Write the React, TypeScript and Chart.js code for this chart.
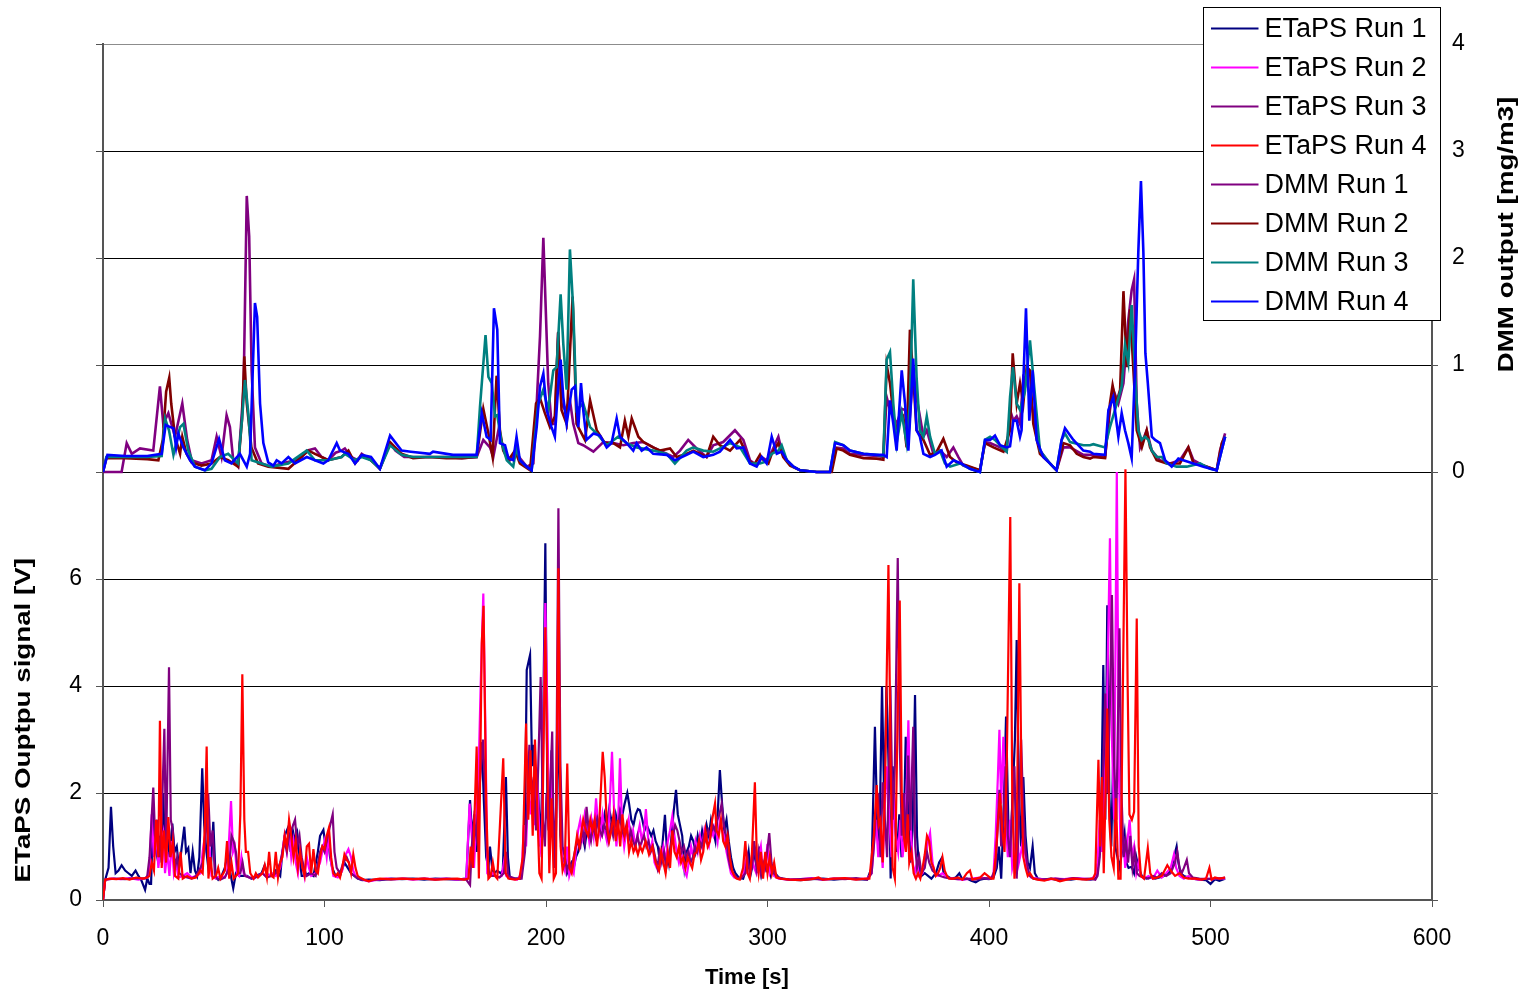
import React, { useEffect, useRef } from "react";
import { Chart, registerables } from "chart.js";

Chart.register(...registerables);

const FONT = '"Liberation Sans", Arial, Helvetica, sans-serif';

const X_TICKS = [0, 100, 200, 300, 400, 500, 600];
const LEFT_TICK_LABELS = [0, 2, 4, 6];
const RIGHT_TICK_LABELS = [0, 1, 2, 3, 4];
const X_TITLE = "Time [s]";
const LEFT_TITLE = "ETaPS Ouptpu signal [V]";
const RIGHT_TITLE = "DMM output [mg/m3]";

const SERIES_LABELS = [
  "ETaPS Run 1", "ETaPS Run 2", "ETaPS Run 3", "ETaPS Run 4",
  "DMM Run 1", "DMM Run 2", "DMM Run 3", "DMM Run 4",
];
const SERIES_COLORS = [
  "#000080", "#FF00FF", "#800080", "#FF0000",
  "#800080", "#800000", "#008080", "#0000FF",
];

type P = [number, number];

const ETAPS_RUN1: P[] = [[0,0],[1,0.38],[2.5,0.6],[3.6,1.74],[4.6,1.0],[5.7,0.5],[7,0.55],[8.4,0.65],[10,0.55],[11.5,0.5],[13,0.45],[14.7,0.55],[16,0.45],[17.5,0.35],[19,0.19],[20,0.4],[21,0.3],[21.7,0.3],[22.7,1.68],[23.5,1.0],[24.5,0.8],[25.5,1.2],[26.5,0.7],[27.2,2.0],[28,0.9],[29,1.3],[30,0.8],[31.3,1.43],[32.3,0.9],[33.3,1.0],[34.3,0.6],[35.3,0.9],[36.7,1.37],[37.5,0.9],[38.5,0.97],[39.5,0.5],[40.5,0.9],[41.5,0.55],[42.5,0.45],[43.5,0.8],[44.8,2.46],[45.7,1.4],[46.7,0.9],[47.7,0.55],[48.7,0.6],[49.8,1.46],[50.8,0.45],[52,0.38],[53.5,0.45],[55,0.6],[56.5,0.9],[57.5,0.5],[58.8,0.22],[60,0.5],[61.5,0.45],[63,0.45],[65,0.45],[67,0.4],[69,0.45],[71.6,0.5],[73,0.65],[74.5,0.45],[76,0.45],[78,0.55],[80,0.45],[81,0.9],[82,1.2],[83.7,1.37],[84.7,0.9],[85.7,1.3],[86.7,1.1],[87.7,1.25],[88.7,0.8],[89.7,0.45],[91,0.45],[93,0.5],[95,0.45],[97,0.9],[98,1.2],[99.5,1.31],[100.5,1.0],[101.5,1.2],[102.5,0.8],[103.5,0.6],[105,0.45],[107,0.45],[109,0.7],[110.5,0.6],[112,0.5],[113.5,0.45],[115,0.4],[117,0.37],[120,0.38],[125,0.37],[130,0.4],[135,0.39],[140,0.4],[145,0.38],[150,0.4],[155,0.39],[160,0.38],[164,0.4],[165.7,1.87],[166.7,1.2],[167.7,1.6],[168.7,0.9],[169.7,2.0],[171,2.95],[172,1.8],[173,0.8],[174,0.6],[174.7,1.0],[175.7,0.6],[176.5,0.5],[178,0.55],[179.5,0.5],[180.5,0.55],[181.9,2.3],[182.8,0.8],[183.7,0.4],[186,0.4],[188.3,0.4],[189.5,0.7],[190.5,1.4],[191.3,4.3],[192.8,4.58],[193.7,2.5],[194.5,2.9],[195.5,1.5],[196.5,2.0],[197.5,1.0],[198.5,2.5],[199.7,6.67],[200.6,2.0],[201.5,1.2],[202.5,2.8],[203.5,0.8],[204.5,1.3],[205.5,3.5],[206.5,1.2],[207.5,0.7],[208.5,0.8],[209.5,0.5],[210.5,0.6],[211.5,0.7],[212.5,0.6],[213.5,0.8],[214.5,0.9],[215.5,1.1],[216.5,1.2],[217.5,1.0],[218.5,1.3],[219.5,1.2],[220.5,1.5],[221.5,1.3],[222.5,1.6],[223.5,1.4],[224.5,1.5],[225.5,1.3],[226.5,1.6],[227.5,1.4],[228.5,1.7],[229.5,1.5],[230.5,1.3],[231.5,1.6],[232.5,1.4],[233.5,1.7],[234.5,1.6],[235.5,1.8],[236.7,2.0],[237.5,1.8],[238.5,1.5],[239.5,1.4],[240.5,1.6],[241.5,1.7],[242.4,1.68],[243.5,1.5],[244.5,1.3],[245.5,1.4],[246.5,1.3],[247.5,1.2],[248.5,1.3],[249.5,1.1],[250.5,1.0],[251.5,0.7],[252.5,1.0],[253.7,1.59],[254.5,1.0],[255.5,0.7],[256.5,1.1],[257.5,1.6],[258.7,2.06],[259.5,1.6],[260.5,1.4],[261.5,1.2],[262.5,0.6],[263.5,0.9],[264.5,1.0],[265.5,1.2],[266.5,1.1],[267.5,0.9],[268.5,1.2],[269.5,1.0],[270.5,1.3],[271.5,1.1],[272.5,1.4],[273.5,1.2],[274.5,1.5],[275.5,1.3],[276.5,1.1],[277.5,1.6],[278.5,2.43],[279.5,1.8],[280.5,1.3],[281.5,1.5],[282.5,1.1],[283.5,0.8],[284.5,0.6],[285.5,0.5],[287,0.42],[289,0.4],[290.5,0.6],[291.5,0.9],[292.5,0.5],[293.5,0.7],[294.5,0.9],[295.5,0.5],[296.5,1.0],[297.5,0.5],[298.5,0.7],[299.5,0.55],[300.5,0.6],[301.5,0.45],[302.5,0.6],[303.5,0.5],[305,0.42],[307,0.4],[310,0.38],[315,0.37],[320,0.39],[325,0.4],[330,0.38],[335,0.4],[340,0.39],[345,0.38],[347,0.6],[348.5,3.24],[349.5,1.5],[350.5,1.0],[351.7,3.99],[352.7,1.8],[353.7,3.99],[354.7,2.5],[355.6,0.4],[356.5,2.5],[357.5,1.5],[358.5,0.9],[359.5,1.6],[360.5,0.8],[361.5,1.2],[362.4,3.05],[363.4,1.8],[364.5,0.7],[365.5,1.3],[366.6,3.83],[367.5,1.2],[368.5,0.5],[369.5,0.45],[371,0.5],[372.5,0.45],[374,0.4],[376,0.5],[377.5,0.7],[378.6,0.78],[379.5,0.5],[381,0.45],[383,0.4],[385,0.42],[386.6,0.5],[388,0.38],[390,0.4],[392,0.36],[394,0.33],[396,0.38],[398,0.4],[400,0.39],[402,0.42],[403.5,0.6],[404.5,1.0],[405.5,0.4],[406.5,1.5],[407.7,3.43],[408.7,1.5],[409.7,0.9],[410.7,2.0],[411.7,3.0],[412.5,4.86],[413.5,2.0],[414.5,1.0],[415.5,2.3],[416.5,1.2],[417.5,0.7],[418.5,0.6],[419.7,1.0],[420.7,0.5],[422,0.4],[425,0.38],[428,0.4],[431,0.37],[434,0.39],[437,0.38],[440,0.4],[443,0.39],[446,0.38],[448,0.4],[449,0.5],[450,1.2],[450.8,2.0],[451.6,4.39],[452.5,1.5],[453.4,5.51],[454.3,2.0],[455.2,1.0],[456,2.5],[457,1.0],[458,0.8],[459,0.6],[460,0.9],[461.2,1.25],[462,0.7],[463,0.6],[464.4,0.62],[465.5,0.5],[466.5,0.8],[467.5,0.6],[469,0.45],[471,0.4],[473,0.42],[475,0.4],[477,0.42],[479,0.45],[481,0.5],[482.5,0.6],[483.5,0.8],[484.7,1.0],[485.5,0.7],[486.5,0.5],[488,0.45],[490,0.42],[492,0.4],[495,0.38],[498,0.37],[500,0.3],[502,0.39],[504,0.36],[506.6,0.4]];

const ETAPS_RUN2: P[] = [[0,0],[1,0.38],[4,0.4],[8,0.39],[12,0.41],[16,0.38],[20,0.42],[21,0.6],[22,1.6],[23,0.8],[24,1.3],[25,0.6],[26,1.0],[27.2,1.25],[28,0.5],[29,0.9],[30,0.45],[31,1.1],[32,0.5],[33,0.7],[34,0.42],[36,0.45],[38,0.5],[40,0.42],[42,0.45],[44,0.5],[45,0.9],[46,1.2],[47,1.5],[48,1.0],[49,0.45],[51,0.4],[53,0.45],[55,0.42],[56,0.5],[57,1.2],[57.8,1.85],[58.7,0.9],[59.5,1.0],[60.5,0.5],[61.5,0.45],[62.5,0.8],[63.5,0.5],[64.5,0.45],[66,0.42],[68,0.4],[70,0.45],[72,0.5],[74,0.42],[76,0.5],[78,0.45],[80,0.6],[81,0.9],[82,1.2],[83,0.9],[84,1.3],[85,0.8],[86,1.1],[87,0.7],[88,0.5],[89,0.9],[90,0.7],[91,0.45],[92,0.8],[93,0.6],[94,0.45],[96,0.5],[98,0.7],[99,0.9],[100,1.1],[101,0.8],[102,1.2],[103,0.7],[104,0.45],[106,0.42],[108,0.55],[109,0.8],[110.8,0.95],[112,0.8],[113,0.55],[114,0.45],[116,0.4],[118,0.37],[120,0.35],[124,0.38],[128,0.4],[132,0.39],[136,0.4],[140,0.38],[145,0.4],[150,0.39],[155,0.4],[160,0.38],[164,0.4],[165.5,1.8],[166.5,1.2],[167.5,0.6],[168.5,1.5],[169.5,2.3],[170.5,4.0],[171.7,5.73],[172.7,3.0],[173.5,0.5],[174.5,0.45],[176,0.5],[178,0.42],[180,0.45],[181,0.7],[182,0.45],[184,0.4],[187,0.38],[189,0.5],[190,1.4],[191,1.0],[192,2.2],[193,1.6],[194,2.0],[195,1.4],[196,2.4],[197,1.2],[198,0.8],[199.7,5.55],[200.6,3.5],[201.5,1.0],[202.5,2.6],[203.5,0.9],[204.5,1.5],[205.6,5.0],[206.6,1.5],[207.5,0.7],[208.5,0.55],[209.5,1.0],[210.5,0.45],[211.5,0.6],[212.5,0.5],[213.5,0.9],[214.5,1.3],[215.5,1.5],[216.5,1.2],[217.5,1.6],[218.5,1.4],[219.5,1.1],[220.5,1.5],[221.5,1.2],[222.6,1.9],[223.5,1.4],[224.5,1.2],[225.5,1.6],[226.5,1.3],[227.5,1.1],[228.5,1.5],[229.8,2.77],[230.8,1.6],[231.8,1.0],[232.6,1.5],[233.4,2.65],[234.3,1.4],[235.3,1.0],[236.3,1.3],[237.3,1.5],[238.3,1.1],[239.3,1.3],[240.3,1.0],[241.3,1.2],[242.3,1.4],[243.3,1.1],[244.3,1.3],[245.1,1.7],[246,1.2],[247,0.9],[248,1.1],[249,0.7],[250,0.6],[251,0.55],[252,0.8],[253,1.0],[254,0.7],[255,1.1],[256,1.3],[257,1.56],[258,1.2],[259,0.9],[260,0.7],[261,0.9],[262,0.6],[263.5,0.45],[264.5,0.7],[265.5,1.0],[266.5,0.8],[267.5,1.1],[268.5,0.9],[269.5,1.2],[270.5,1.0],[271.5,1.3],[272.5,1.1],[273.5,1.0],[274.5,1.3],[275.5,1.2],[276.5,1.4],[277.5,1.1],[278.5,1.5],[279.5,1.3],[280.5,1.2],[281.5,0.9],[282.5,0.7],[283.5,0.5],[285,0.42],[287,0.4],[289,0.45],[290,0.7],[291,0.5],[292,0.45],[293,0.8],[294,0.6],[295,0.5],[296,0.8],[297,1.0],[298,0.5],[299,0.6],[300,1.05],[301,0.5],[302,0.6],[303,0.45],[305,0.4],[310,0.38],[315,0.39],[320,0.41],[325,0.38],[330,0.4],[335,0.4],[340,0.39],[345,0.4],[347,0.5],[348,1.0],[349,1.5],[350,0.8],[351,1.3],[352,0.6],[353,1.8],[354,2.5],[355,1.5],[356,0.8],[357,2.0],[358,1.2],[359,0.9],[360,1.5],[361,0.8],[362.5,1.5],[363.6,3.36],[364.5,1.5],[365.5,0.7],[366.5,0.5],[367.5,0.7],[368.5,0.45],[370,0.5],[371,0.8],[372,1.0],[373.4,1.25],[374.5,0.7],[375.5,0.5],[377,0.45],[379,0.5],[381,0.42],[384,0.4],[388,0.38],[392,0.4],[396,0.42],[400,0.4],[402,0.45],[403,1.2],[404,2.3],[404.7,3.18],[405.5,1.8],[406.5,3.05],[407.5,1.6],[408.5,0.8],[409.5,1.5],[410.5,0.6],[411.5,0.8],[412.5,1.6],[413.5,0.7],[414.5,0.9],[415.5,1.2],[416.5,0.8],[417.5,0.5],[419,0.42],[422,0.4],[426,0.38],[430,0.4],[434,0.39],[438,0.41],[442,0.4],[446,0.39],[448,0.45],[449,0.7],[450,1.5],[451,0.9],[452,2.0],[453,3.0],[454.6,6.76],[455.5,3.0],[456.5,1.5],[457.7,8.0],[458.6,2.5],[459.5,0.8],[460.5,1.2],[461.5,0.6],[462.5,1.1],[463.5,1.5],[464.5,0.8],[465.5,1.0],[466.5,0.5],[467.5,0.7],[468.5,0.45],[470,0.4],[472,0.45],[474,0.4],[476,0.55],[478,0.42],[480,0.5],[482,0.6],[483.5,0.85],[484.5,0.6],[486,0.45],[488,0.4],[490,0.45],[492,0.4],[495,0.38],[498,0.4],[501,0.39],[504,0.41],[506.6,0.4]];

const ETAPS_RUN3: P[] = [[0,0],[1,0.38],[5,0.4],[10,0.39],[15,0.41],[19,0.4],[20,0.45],[21,0.8],[22.7,2.1],[23.5,1.2],[24.5,1.5],[25.5,0.8],[26.5,1.5],[27.7,3.2],[28.5,0.9],[29.8,4.35],[30.6,1.5],[31.5,1.3],[32.5,0.6],[33.5,0.8],[34.5,0.5],[36,0.45],[38,0.42],[40,0.4],[42,0.45],[44,0.6],[45,0.7],[46,1.0],[47.5,2.0],[48.5,1.0],[49.5,1.3],[50.5,0.5],[51.5,0.4],[53,0.38],[55,0.42],[57,0.6],[58,1.2],[59,1.1],[60,0.9],[61,0.5],[62,0.5],[63,0.7],[64,0.45],[66,0.42],[68,0.4],[70,0.45],[72,0.5],[74,0.42],[76,0.45],[78,0.5],[80,0.7],[81,0.9],[82,1.1],[83,0.9],[84,1.2],[85,1.3],[86.7,1.5],[87.7,1.0],[88.7,1.2],[89.7,0.8],[90.7,0.6],[92,0.45],[94,0.5],[96,0.45],[98,0.9],[99,1.0],[100,0.9],[101,1.1],[102,1.3],[103.7,1.6],[104.5,0.9],[105.5,0.6],[107,0.5],[108.5,0.7],[110,0.8],[111,0.7],[112,0.5],[113.5,0.45],[115,0.4],[117,0.38],[120,0.36],[125,0.39],[130,0.38],[135,0.4],[140,0.39],[145,0.4],[150,0.38],[155,0.4],[160,0.39],[164,0.38],[165.7,0.28],[166.5,1.0],[167.5,1.5],[168.5,1.2],[169.5,1.8],[170.5,2.4],[171.5,3.0],[172.3,2.3],[173.3,1.0],[174.3,0.5],[175.5,0.45],[177,0.45],[179,0.42],[181,0.5],[182,0.9],[183,0.45],[186,0.4],[189,0.4],[190.5,0.9],[191.5,1.8],[192.5,2.9],[193.5,2.0],[194.5,2.3],[195.5,1.3],[196.5,2.5],[197.6,4.17],[198.6,1.5],[199.5,1.0],[200.2,2.0],[201.2,1.3],[202.8,3.15],[203.6,0.6],[204.6,1.8],[205.6,7.32],[206.5,2.5],[207.5,1.0],[208.5,0.8],[209.5,0.55],[210.5,0.7],[211.5,0.6],[212.5,0.8],[213.5,1.0],[214.5,1.1],[215.5,1.0],[216.5,1.3],[217.5,1.1],[218.3,1.74],[219.3,1.3],[220.3,1.1],[221.3,1.4],[222.3,1.2],[223.3,1.5],[224.3,1.3],[225.3,1.2],[226.3,1.4],[227.3,1.3],[228.3,1.1],[229.3,1.4],[230.3,1.2],[231.3,1.5],[232.3,1.3],[233.3,1.6],[234.3,1.3],[235.3,1.2],[236.3,1.4],[237.3,1.1],[238.3,1.3],[239.3,1.1],[240.3,1.0],[241.3,1.2],[242.3,1.0],[243.3,1.1],[244.3,1.2],[245.3,1.0],[246.3,1.1],[247.3,0.9],[248.3,1.0],[249.3,0.8],[250.3,0.6],[251.3,0.9],[252.3,0.7],[253.3,0.9],[254.3,0.6],[255.3,0.8],[256.3,1.0],[257.3,1.2],[258.3,1.4],[259.3,1.3],[260.3,1.1],[261.3,0.9],[262.3,1.0],[263.3,0.8],[264.3,0.9],[265.3,0.7],[266.3,0.8],[267.3,1.0],[268.3,0.9],[269.3,1.1],[270.3,1.0],[271.3,1.2],[272.3,1.1],[273.3,1.3],[274.3,1.2],[275.3,1.4],[276.3,1.3],[277.3,1.5],[278.3,1.6],[279.3,1.8],[280.3,1.4],[281.3,1.2],[282.3,0.8],[283.3,0.6],[284.5,0.5],[286,0.42],[288,0.4],[290,0.5],[291,0.8],[292,0.5],[293,0.6],[294,1.1],[295,0.6],[296,0.9],[297,0.5],[298,0.7],[299,0.6],[300.8,1.25],[301.8,0.7],[302.8,0.5],[304,0.45],[306,0.4],[310,0.38],[315,0.39],[320,0.4],[325,0.38],[330,0.4],[335,0.39],[340,0.41],[345,0.38],[347,0.5],[348,1.0],[349,1.7],[350,2.0],[351,0.8],[352,2.2],[353,1.5],[354,0.8],[355.5,4.0],[356.5,1.5],[357.5,2.5],[358.8,6.39],[359.7,3.0],[360.6,1.2],[361.5,2.0],[362.5,1.0],[363.5,2.7],[364.5,1.3],[365.8,3.24],[366.7,1.0],[367.5,0.6],[368.5,0.8],[369.5,0.5],[371,0.6],[372,0.9],[373,0.7],[374.5,0.55],[376,0.5],[378,0.45],[380,0.42],[383,0.4],[386,0.39],[390,0.4],[394,0.38],[398,0.41],[401,0.4],[403,0.6],[404.7,2.06],[405.5,1.0],[406.5,1.5],[407.5,2.5],[408.5,1.2],[409.5,0.8],[410.5,1.8],[411.5,2.5],[412.5,0.4],[413.5,1.5],[414.5,3.0],[415.5,1.6],[416.5,0.9],[417.5,0.6],[418.5,0.45],[420,0.4],[423,0.38],[426,0.39],[430,0.4],[434,0.38],[438,0.41],[442,0.39],[446,0.4],[448,0.38],[449,0.45],[450,0.8],[451,1.6],[452.5,3.86],[453.5,2.0],[454.5,3.5],[455.5,5.7],[456.5,2.5],[457.5,1.5],[458.9,5.08],[459.8,2.0],[460.8,0.8],[461.8,1.1],[462.8,0.7],[463.8,1.2],[464.8,0.6],[465.8,0.9],[466.8,0.5],[468,0.45],[470,0.42],[472,0.4],[474,0.45],[476,0.42],[478,0.5],[480,0.45],[482,0.5],[484,0.7],[485,0.9],[486,0.6],[487,0.5],[488,0.6],[489.3,0.75],[490.3,0.5],[492,0.42],[495,0.4],[498,0.39],[501,0.4],[504,0.4],[506.6,0.42]];

const ETAPS_RUN4: P[] = [[0,0],[1,0.38],[3,0.4],[6,0.39],[9,0.41],[12,0.38],[15,0.42],[18,0.4],[20,0.42],[21,0.45],[22,0.7],[23,0.55],[24,1.5],[25,0.8],[25.7,3.35],[26.5,0.6],[27.5,1.3],[28.5,0.7],[29.5,1.55],[30.5,0.8],[31.5,1.1],[32.5,0.45],[34,0.4],[35,0.9],[36,0.4],[38,0.45],[40,0.4],[42,0.42],[44,0.55],[45,0.5],[46,1.4],[46.8,2.87],[47.6,0.4],[48.5,0.8],[49.5,0.4],[51,0.45],[52,0.6],[53,0.4],[55,0.55],[56,1.1],[57,0.4],[58,0.7],[59,0.4],[61,0.5],[62,1.6],[62.9,4.22],[63.8,1.5],[64.5,0.9],[65.5,0.9],[66.5,0.5],[68,0.4],[69,0.5],[70,0.42],[72,0.5],[73,0.65],[74,0.42],[75,0.9],[76,0.45],[77,0.42],[78,0.9],[79,0.42],[80,0.7],[81,0.8],[82,1.2],[83,1.0],[84,1.5],[85,1.2],[86,0.8],[87,1.1],[88,0.6],[89,0.9],[90,0.6],[91,0.45],[92,1.0],[93,1.05],[94,0.5],[95,0.95],[96,0.55],[97,0.5],[98,0.8],[99,1.0],[100,0.95],[101,1.2],[102,1.35],[103,0.8],[104,0.5],[105,0.45],[106,0.5],[107,0.42],[108,0.6],[109,0.85],[110,0.75],[111,0.7],[112,0.5],[113,0.85],[114,0.6],[115,0.45],[116,0.42],[118,0.38],[120,0.35],[122,0.38],[125,0.4],[130,0.39],[135,0.4],[140,0.39],[145,0.4],[150,0.38],[155,0.39],[160,0.4],[163,0.38],[165,0.4],[166,1.0],[167,0.6],[168.7,2.87],[169.7,0.4],[171,4.8],[171.8,5.5],[173,1.8],[174,0.4],[175,0.45],[176,0.7],[177,0.45],[178,0.4],[180.7,2.65],[181.8,0.5],[183,0.4],[186,0.38],[188,0.4],[189.5,0.8],[191,3.3],[192,1.5],[193,2.8],[194,1.2],[195,3.0],[196,1.8],[197,0.5],[198,0.4],[199.7,5.1],[200.6,2.5],[201.5,0.5],[202.5,1.9],[203.5,0.4],[204.5,0.5],[205.6,6.2],[206.6,1.0],[207.5,0.55],[208.5,0.7],[209.6,2.55],[210.6,0.6],[211.6,0.5],[213,0.9],[214,1.2],[215,1.0],[216.8,1.5],[218,1.3],[219,1.2],[220,1.5],[221,1.3],[222,1.5],[223,1.0],[224,1.4],[225.6,2.77],[226.5,2.3],[227.5,1.4],[228.5,1.1],[229.5,1.3],[230.5,1.6],[231.5,1.1],[232.5,1.5],[233.5,1.0],[234.5,1.6],[235.5,1.2],[236.5,1.4],[237.5,0.9],[238.5,1.1],[239.5,0.9],[240.5,1.0],[241.5,0.85],[242.5,1.0],[243.5,0.9],[245,1.1],[246.5,0.85],[248,1.0],[249.5,0.7],[251,0.55],[252,0.9],[253,0.7],[254,0.5],[255,0.9],[256,0.6],[257,1.3],[258,0.9],[259,0.8],[260,1.0],[261,0.7],[262,0.8],[263,0.6],[264,0.8],[265,0.7],[266,0.6],[267,0.85],[268,0.9],[269,1.1],[270,0.75],[271,0.9],[272,1.3],[273,1.0],[274,1.1],[275,1.5],[276.3,1.8],[277,1.3],[278,1.2],[279,1.5],[280,1.1],[281,1.0],[282,1.2],[283,0.8],[284,0.55],[285,0.45],[286,0.4],[287.5,0.38],[289,0.6],[290,1.1],[291,0.5],[292,0.4],[293,0.9],[294.3,2.2],[295.2,0.8],[296,0.5],[297,0.9],[298,0.4],[299,0.9],[300,0.5],[301,0.8],[302,0.5],[303,0.7],[304,0.42],[306,0.4],[310,0.38],[315,0.37],[320,0.39],[323,0.42],[325,0.38],[330,0.4],[335,0.41],[340,0.38],[344,0.4],[346,0.4],[347,0.8],[348,1.2],[349.3,2.15],[350.2,1.4],[351,1.5],[352,0.7],[353,2.0],[354.6,6.26],[355.6,2.5],[356.5,0.6],[357.5,0.4],[358.6,3.0],[359.7,5.6],[360.6,2.0],[361.5,1.2],[362.5,0.9],[363.3,1.6],[364,0.7],[365,0.9],[366,0.5],[367,0.4],[368,0.5],[369,0.4],[370,0.6],[371,0.85],[372,1.2],[373,1.1],[374,0.7],[375,0.6],[376,0.45],[377,0.5],[378,0.6],[379,0.8],[380,0.55],[381,0.45],[382,0.4],[384,0.4],[386,0.42],[388,0.38],[390,0.5],[391.4,0.55],[392.5,0.38],[394,0.4],[396,0.42],[398,0.5],[399.5,0.45],[401,0.4],[402,0.4],[403,0.8],[404,1.4],[405,2.0],[406,1.3],[407,0.9],[408,2.5],[409.6,7.16],[410.5,2.0],[411.5,0.4],[412.5,1.0],[413.7,5.92],[414.7,2.0],[415.5,0.8],[416.5,0.6],[417.5,0.45],[418.5,0.5],[420,0.4],[422,0.38],[425,0.36],[428,0.4],[430,0.38],[432,0.35],[435,0.38],[438,0.4],[441,0.39],[444,0.38],[447,0.4],[448,0.5],[449.4,2.62],[450.2,1.0],[451,2.3],[451.8,0.5],[452.5,1.8],[453.4,3.58],[454.3,1.5],[455.3,0.8],[456.3,0.6],[457.3,1.9],[458.4,0.4],[459.4,0.4],[460.6,4.5],[461.6,8.05],[462.6,4.0],[463.4,1.6],[464.5,1.5],[465.5,1.65],[466.7,5.26],[467.6,1.0],[468.6,0.45],[470,0.4],[471.7,0.97],[472.8,0.5],[474,0.4],[476,0.42],[478,0.45],[480.5,0.65],[482,0.55],[484,0.45],[486,0.5],[488,0.42],[490,0.4],[493,0.4],[496,0.38],[498,0.4],[499.5,0.6],[500.5,0.38],[502,0.42],[504,0.4],[506.6,0.42]];

const DMM_RUN1: P[] = [[0,0],[8.4,0],[10.7,0.27],[13,0.17],[16.7,0.22],[22.7,0.2],[25.7,0.8],[27.2,0.45],[29.5,0.55],[32.5,0.33],[35.8,0.64],[38,0.3],[40,0.11],[44.5,0.08],[49,0.11],[51.3,0.33],[53.5,0.14],[55.8,0.53],[57.3,0.42],[58.8,0.11],[61,0.05],[63.5,0.8],[64.9,2.58],[66,2.2],[67.1,0.95],[68.6,0.23],[71.6,0.08],[76,0.05],[80.6,0.08],[86.7,0.11],[89.7,0.14],[92,0.2],[95.7,0.22],[98.7,0.14],[101.7,0.11],[105,0.18],[107.7,0.2],[109.2,0.22],[112,0.14],[115,0.11],[116.8,0.17],[119,0.14],[122.8,0.08],[125,0.03],[129.6,0.27],[132,0.2],[136,0.14],[140,0.14],[147,0.14],[155,0.14],[162,0.13],[168.7,0.14],[171.7,0.3],[174.7,0.23],[176.2,0.14],[178.5,0.39],[180.7,0.23],[183.7,0.11],[186.7,0.17],[191.3,0.05],[194.3,0.08],[195.8,0.64],[197.3,1.27],[198.8,2.19],[200,1.45],[201,0.83],[202.5,0.45],[204,0.45],[205.5,1.3],[207,0.64],[208.6,0.58],[210.8,0.67],[212.3,0.45],[214.6,0.27],[216.8,0.25],[221.4,0.19],[225.9,0.28],[230.4,0.27],[234.9,0.25],[239.4,0.27],[244,0.28],[248.4,0.23],[251.5,0.2],[257.5,0.14],[260.5,0.2],[264.2,0.3],[268,0.22],[272.5,0.14],[275.5,0.25],[280,0.28],[285.3,0.39],[289.1,0.3],[292.1,0.11],[295.1,0.06],[297.4,0.14],[299.6,0.11],[301.9,0.19],[304.9,0.33],[306.4,0.2],[308.7,0.11],[311.7,0.05],[314.7,0.016],[322.2,0],[328.2,0],[330.5,0.23],[334.2,0.22],[337.2,0.17],[343.3,0.16],[349.3,0.15],[352.3,0.14],[353.8,0.7],[355.3,0.58],[358.3,0.45],[360.6,0.59],[362.1,0.58],[363.6,0.33],[365.8,0.95],[367.3,0.7],[368.8,0.52],[370.4,0.33],[371.9,0.39],[374.9,0.17],[377.9,0.2],[380.9,0.14],[383.9,0.23],[386.2,0.14],[388.4,0.06],[395.9,0.016],[398.2,0.28],[400.5,0.27],[405,0.23],[408,0.19],[409.5,0.58],[411,0.48],[412.5,0.52],[414,0.45],[415.5,0.89],[417,0.86],[420,0.55],[423,0.2],[427.5,0.08],[430.5,0.016],[433.6,0.23],[436.6,0.23],[442.6,0.16],[447,0.16],[452.4,0.14],[454.6,0.58],[456.1,0.77],[458.4,0.64],[460.7,0.83],[462.9,1.42],[464.4,1.7],[465.5,1.8],[466.7,0.64],[468.2,0.23],[471.2,0.39],[473.5,0.2],[477.2,0.11],[481.7,0.08],[486.2,0.11],[490,0.23],[492.3,0.11],[496.8,0.06],[502.8,0.016],[504.3,0.2],[506.6,0.36]];

const DMM_RUN2: P[] = [[0,0],[1.5,0.13],[10,0.13],[20,0.12],[25,0.11],[27,0.3],[28.5,0.75],[29.9,0.88],[30.8,0.64],[32.5,0.33],[34.8,0.17],[35.8,0.33],[37.7,0.17],[40,0.09],[44.5,0.06],[49,0.08],[52.8,0.14],[56.5,0.11],[61,0.05],[62.8,0.5],[63.8,1.08],[64.9,0.64],[67,0.23],[70,0.08],[74.6,0.05],[83.7,0.03],[88,0.11],[92.7,0.2],[95.7,0.17],[101.7,0.11],[107.7,0.14],[110.8,0.2],[113.8,0.08],[116.8,0.16],[121,0.11],[125,0.03],[129.6,0.28],[134.8,0.17],[140,0.13],[147,0.14],[155,0.13],[162,0.13],[168.7,0.14],[171.7,0.59],[174,0.36],[175.9,0.14],[177.7,0.9],[179.2,0.39],[180.7,0.2],[183,0.11],[186,0.2],[188.2,0.08],[192.8,0.016],[195.5,0.64],[197.3,0.69],[199.5,0.55],[201.8,0.42],[204,0.52],[205.5,1.31],[207,0.58],[209.3,0.45],[212,1.64],[213.8,0.45],[217.6,0.3],[219.9,0.67],[222.9,0.39],[226.6,0.27],[230.4,0.27],[233.4,0.23],[235.6,0.48],[237.2,0.33],[238.7,0.5],[241.7,0.33],[244,0.28],[248.4,0.23],[251.5,0.2],[256,0.22],[259,0.14],[263.5,0.17],[266.5,0.2],[272.5,0.14],[275.5,0.33],[278.5,0.25],[283.1,0.2],[287.6,0.3],[292.1,0.09],[294.3,0.08],[296.6,0.16],[297.4,0.125],[300.4,0.08],[301.9,0.17],[304.9,0.27],[307.1,0.14],[310.2,0.06],[314.7,0.016],[322.2,0],[329,0],[331.2,0.22],[334.2,0.2],[337.2,0.16],[343.3,0.13],[349.3,0.125],[352.3,0.115],[353.8,1.0],[355.3,0.83],[357.6,0.39],[359.8,0.48],[361.3,0.52],[362.8,0.23],[364.3,1.33],[365.8,0.89],[367.3,0.39],[370.4,0.3],[373.4,0.16],[376.4,0.19],[379.4,0.31],[382.4,0.14],[385.4,0.09],[389.9,0.06],[395.9,0.016],[398.2,0.27],[402,0.23],[406.5,0.19],[409.5,0.39],[410.7,1.11],[412.5,0.64],[414,0.83],[415.5,0.64],[417,0.98],[418.5,0.95],[420,0.45],[423,0.17],[427.5,0.08],[430.5,0.016],[433.6,0.27],[436.6,0.25],[439.6,0.17],[442.6,0.14],[445.6,0.125],[447.1,0.14],[452.4,0.13],[454.6,0.64],[455.8,0.81],[457.4,0.64],[459.2,0.77],[460.7,1.69],[462.2,0.98],[463.7,1.52],[465.2,0.95],[466.7,0.39],[469,0.23],[471.2,0.39],[472.7,0.23],[475.7,0.11],[480.2,0.08],[486.2,0.08],[490,0.23],[492.3,0.08],[496.8,0.06],[502.8,0.016],[505.1,0.27],[506.6,0.33]];

const DMM_RUN3: P[] = [[0,0],[1.5,0.14],[10,0.14],[20,0.14],[26.5,0.15],[28,0.5],[29.8,0.39],[31.8,0.16],[34.8,0.42],[36.3,0.45],[38.5,0.2],[41.5,0.05],[46,0.016],[49,0.03],[52.8,0.14],[56.5,0.17],[61,0.08],[62.8,0.5],[64.1,0.86],[65.6,0.55],[67.1,0.11],[71.6,0.08],[76,0.05],[83.7,0.08],[92,0.2],[95.7,0.11],[101.7,0.11],[107.7,0.14],[109.2,0.17],[113.8,0.11],[116.8,0.14],[121,0.11],[125,0.03],[129.6,0.25],[134.8,0.16],[140,0.14],[147,0.14],[150,0.14],[160,0.14],[168.7,0.14],[170.2,0.61],[172.7,1.28],[174,0.89],[175.5,0.83],[177,0.52],[178,0.53],[180,0.27],[182.3,0.11],[185.2,0.05],[186.7,0.23],[188.2,0.11],[191.3,0.05],[193.5,0.016],[195,0.33],[196.5,0.64],[198.8,0.77],[201,0.58],[203.3,0.95],[204.8,0.98],[206.6,1.66],[207.8,1.2],[209.3,0.77],[210.8,2.08],[212.3,1.52],[213.8,0.58],[216.8,0.64],[219.9,0.42],[222.9,0.36],[227.4,0.25],[232.6,0.33],[236.4,0.27],[240.9,0.23],[248.4,0.2],[254.5,0.17],[258.2,0.08],[263.5,0.2],[266.5,0.23],[271,0.2],[275.5,0.19],[278.5,0.22],[283.1,0.27],[287.6,0.23],[292.1,0.08],[296.6,0.08],[299.6,0.1],[301.9,0.17],[304.9,0.2],[306.4,0.25],[308.7,0.11],[311.7,0.05],[314.7,0.016],[322.2,0],[328.2,0],[330.5,0.28],[334.2,0.25],[337.2,0.2],[343.3,0.17],[349.3,0.16],[352.3,0.15],[353.8,1.05],[355.3,1.12],[356.8,0.64],[358.3,0.27],[360.6,0.55],[362.8,0.27],[364.3,0.64],[365.8,1.8],[367.3,0.89],[368.8,0.39],[370.4,0.33],[371.9,0.52],[373.4,0.33],[375.6,0.17],[377.9,0.2],[380.1,0.08],[382.4,0.05],[386.9,0.08],[391.4,0.03],[395.9,0],[398.2,0.3],[400.5,0.33],[402.7,0.3],[405,0.25],[408,0.19],[409.5,0.7],[410.8,0.98],[412.5,0.64],[414,0.58],[416.2,0.75],[418.5,1.23],[420,0.89],[423,0.2],[427.5,0.08],[430.5,0.016],[432.8,0.3],[434.3,0.36],[436.6,0.28],[442.6,0.25],[445.6,0.25],[447.1,0.26],[452.4,0.23],[454.6,0.42],[457.7,0.64],[459.9,0.8],[461.4,1.19],[462.9,1.02],[464.4,1.56],[465.9,0.95],[467.4,0.39],[468.9,0.3],[470.4,0.33],[472,0.3],[473.5,0.2],[475.7,0.14],[478,0.14],[480.2,0.08],[484.7,0.05],[489.3,0.05],[495.3,0.08],[499.8,0.03],[502.8,0.016],[504.3,0.14],[506.6,0.33]];

const DMM_RUN4: P[] = [[0,0],[2,0.16],[10,0.15],[20,0.15],[26.5,0.17],[28.3,0.44],[30.3,0.42],[31.8,0.41],[33,0.23],[34,0.36],[36.3,0.23],[39.3,0.11],[41.5,0.05],[46,0.016],[49,0.08],[52.4,0.31],[55,0.11],[58,0.08],[61.8,0.17],[64.9,0.05],[66.4,0.17],[68.6,1.58],[69.6,1.45],[70.9,0.64],[72.4,0.27],[74.6,0.09],[76.9,0.06],[78.4,0.11],[80.6,0.08],[83.7,0.14],[86.7,0.08],[92,0.14],[95.7,0.11],[99.5,0.08],[101.7,0.11],[105.5,0.27],[107,0.2],[110.8,0.17],[113.8,0.08],[116.8,0.16],[121,0.14],[125,0.03],[129.6,0.34],[134.8,0.2],[139,0.19],[147.6,0.17],[149,0.19],[158,0.16],[168.7,0.16],[171,0.55],[173.2,0.33],[175,0.3],[176.5,1.53],[178,1.33],[179.2,0.27],[181.5,0.25],[183,0.13],[185.2,0.11],[186.7,0.33],[188.2,0.11],[191.3,0.05],[193.5,0.016],[195.8,0.42],[197.3,0.8],[198.8,0.92],[200.3,0.58],[202.5,0.42],[204,0.33],[205.5,0.8],[206.6,1.05],[207.8,0.7],[209.3,0.45],[211.6,0.77],[213.1,0.8],[214.6,0.42],[215.8,0.83],[216.8,0.58],[218.3,0.3],[221.4,0.36],[224.4,0.34],[227.4,0.23],[229.6,0.27],[231.9,0.5],[233.4,0.33],[236.4,0.27],[239.4,0.2],[240.9,0.27],[243.2,0.2],[245.4,0.23],[248.4,0.17],[254.5,0.16],[258.2,0.11],[263.5,0.16],[266.5,0.19],[271,0.14],[275.5,0.16],[278.5,0.19],[283.1,0.3],[286.1,0.22],[289.1,0.23],[292.1,0.08],[295.1,0.05],[297.4,0.14],[299.6,0.08],[301.9,0.33],[304.2,0.17],[306.4,0.19],[308.7,0.11],[311.7,0.05],[314.7,0.016],[322.2,0],[328.2,0],[330.5,0.27],[334.2,0.25],[337.2,0.2],[343.3,0.17],[349.3,0.16],[352.3,0.16],[353.8,0.14],[355.3,0.67],[356.8,0.45],[358.3,0.2],[360.6,0.95],[362.1,0.64],[363.6,0.2],[365.8,1.06],[367.3,0.39],[368.8,0.33],[370.4,0.17],[373.4,0.14],[375.6,0.16],[378.6,0.2],[380.9,0.05],[384,0.11],[387.4,0.08],[391.4,0.03],[395.9,0],[398.2,0.3],[400.5,0.3],[402.7,0.34],[405,0.25],[408,0.23],[409.5,0.24],[411,0.48],[412.5,0.48],[414,0.33],[414.7,0.39],[416.7,1.53],[418.2,0.48],[419.7,0.95],[421.5,0.3],[424.5,0.14],[427.5,0.08],[430.5,0.016],[432.8,0.3],[434.3,0.41],[438.1,0.3],[442.6,0.2],[445.6,0.19],[447.1,0.17],[452.4,0.16],[453.9,0.58],[456.1,0.7],[458.4,0.33],[459.9,0.55],[461.4,0.39],[462.9,0.27],[464.4,0.13],[465.9,0.95],[467.4,2.05],[468.6,2.72],[469.7,2.05],[470.6,1.11],[471.7,0.83],[473.5,0.33],[475,0.3],[477.2,0.27],[479.5,0.11],[482.5,0.05],[485.5,0.125],[487.7,0.11],[492.3,0.08],[496.8,0.05],[502.8,0.016],[504.3,0.14],[506.6,0.33]];

const SERIES_DATA = [
  ETAPS_RUN1, ETAPS_RUN2, ETAPS_RUN3, ETAPS_RUN4,
  DMM_RUN1, DMM_RUN2, DMM_RUN3, DMM_RUN4,
];

const overlayPlugin = {
  id: "overlay",
  afterDraw(chart: any) {
    const ctx = chart.ctx as CanvasRenderingContext2D;
    const { chartArea, scales } = chart;
    ctx.save();
    ctx.fillStyle = "#000";

    // X title
    ctx.font = `bold 22px ${FONT}`;
    ctx.textAlign = "center";
    ctx.textBaseline = "middle";
    ctx.fillText(X_TITLE, scales.x.getPixelForValue(290.7), chartArea.bottom + 78);

    // Left title
    ctx.save();
    ctx.translate(chartArea.left - 79, scales.y.getPixelForValue(3.36));
    ctx.rotate(-Math.PI / 2);
    ctx.scale(1.26, 1);
    ctx.fillText(LEFT_TITLE, 0, 0);
    ctx.restore();

    // Right title
    ctx.save();
    ctx.translate(chartArea.right + 75, scales.y2.getPixelForValue(2.22));
    ctx.rotate(-Math.PI / 2);
    ctx.scale(1.26, 1);
    ctx.fillText(RIGHT_TITLE, 0, 0);
    ctx.restore();

    // Legend
    const bx = chartArea.right - 228.5;
    const by = 7.5;
    const bw = 237;
    const bh = 313;
    ctx.fillStyle = "#fff";
    ctx.fillRect(bx, by, bw, bh);
    ctx.strokeStyle = "#000";
    ctx.lineWidth = 1;
    ctx.strokeRect(bx, by, bw, bh);
    ctx.font = `27px ${FONT}`;
    ctx.textAlign = "left";
    ctx.textBaseline = "middle";
    SERIES_LABELS.forEach((label, i) => {
      const y = 28.5 + i * 39;
      ctx.strokeStyle = SERIES_COLORS[i];
      ctx.lineWidth = 2;
      ctx.beginPath();
      ctx.moveTo(bx + 7.5, y);
      ctx.lineTo(bx + 55, y);
      ctx.stroke();
      ctx.fillStyle = "#000";
      ctx.fillText(label, bx + 61, y + 1);
    });
    ctx.restore();
  },
};

export default function App() {
  const canvasRef = useRef<HTMLCanvasElement | null>(null);

  useEffect(() => {
    const canvas = canvasRef.current;
    if (!canvas) return;
    const datasets = SERIES_LABELS.map((label, i) => ({
      label,
      data: SERIES_DATA[i].map(([x, y]) => ({ x, y })),
      borderColor: SERIES_COLORS[i],
      backgroundColor: SERIES_COLORS[i],
      borderWidth: i < 4 ? 2.2 : 2.6,
      pointRadius: 0,
      tension: 0,
      fill: false,
      yAxisID: i < 4 ? "y" : "y2",
      order: 8 - i,
    }));

    const chart = new Chart(canvas, {
      type: "line",
      data: { datasets },
      options: {
        animation: false,
        responsive: false,
        maintainAspectRatio: false,
        parsing: false as any,
        normalized: true,
        layout: { padding: { top: 44, left: 0, right: 0, bottom: 0 } },
        plugins: {
          legend: { display: false },
          tooltip: { enabled: false },
          title: { display: false },
        },
        scales: {
          x: {
            type: "linear",
            min: 0,
            max: 600,
            afterBuildTicks: (s: any) => {
              s.ticks = X_TICKS.map((v) => ({ value: v }));
            },
            ticks: {
              color: "#000",
              font: { family: FONT, size: 23 },
              padding: 18,
              maxRotation: 0,
              autoSkip: false,
            },
            grid: {
              drawOnChartArea: false,
              drawTicks: true,
              tickLength: 7,
              color: "#555",
              lineWidth: 1,
            },
            border: { display: true, color: "#555", width: 2 },
            afterFit: (s: any) => {
              s.height = 92;
            },
          },
          y: {
            type: "linear",
            position: "left",
            min: 0,
            max: 16,
            ticks: {
              stepSize: 2,
              color: "#000",
              font: { family: FONT, size: 23 },
              padding: 14,
              callback: (v: any) => (LEFT_TICK_LABELS.includes(Number(v)) ? String(v) : ""),
            },
            grid: {
              drawOnChartArea: true,
              drawTicks: true,
              tickLength: 7,
              color: (c: any) => (c.tick && c.tick.value === 16 ? "#8c8c8c" : "#000"),
              tickColor: "#555",
              lineWidth: 1,
            },
            border: { display: true, color: "#555", width: 2 },
            afterFit: (s: any) => {
              s.width = 103;
            },
          },
          y2: {
            type: "linear",
            position: "right",
            min: -4,
            max: 4,
            ticks: {
              stepSize: 1,
              color: "#000",
              font: { family: FONT, size: 23 },
              padding: 14,
              callback: (v: any) => (RIGHT_TICK_LABELS.includes(Number(v)) ? String(v) : ""),
            },
            grid: {
              drawOnChartArea: false,
              drawTicks: true,
              tickLength: 6,
              color: "#555",
            },
            border: { display: true, color: "#555", width: 2 },
            afterFit: (s: any) => {
              s.width = 100;
            },
          },
        },
      },
      plugins: [overlayPlugin],
    });

    return () => {
      chart.destroy();
    };
  }, []);

  return (
    <div
      style={{
        position: "fixed",
        left: 0,
        top: 0,
        width: 1532,
        height: 992,
        background: "#fff",
      }}
    >
      <canvas ref={canvasRef} width={1532} height={992} style={{ width: 1532, height: 992, display: "block" }} />
    </div>
  );
}
